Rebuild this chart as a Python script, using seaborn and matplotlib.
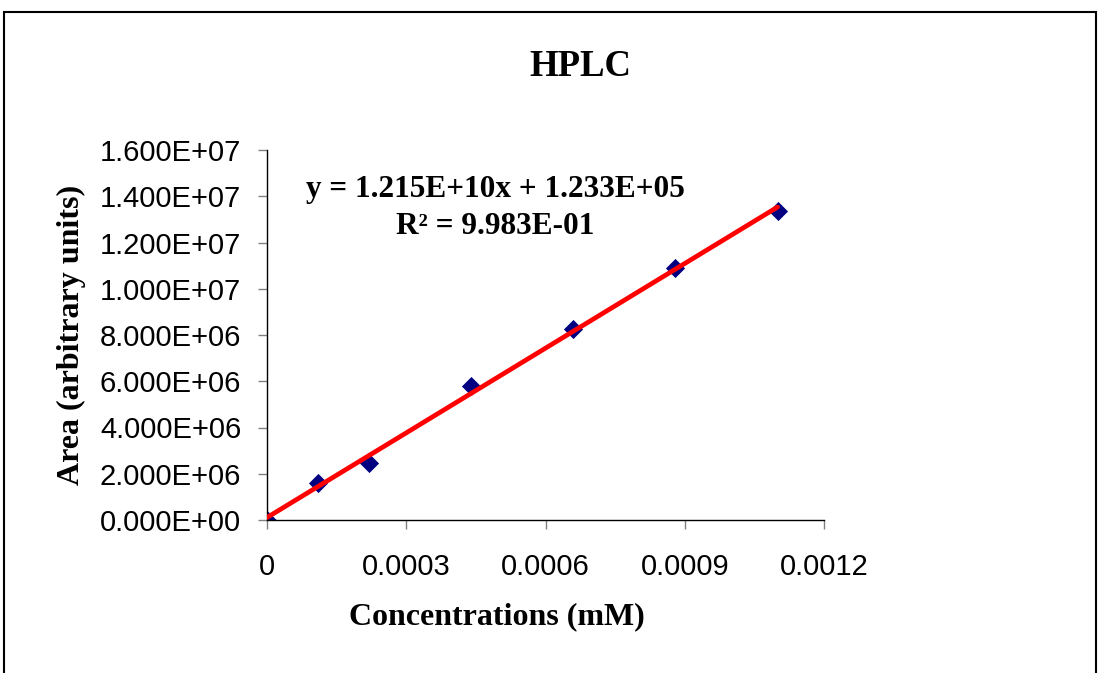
import matplotlib
matplotlib.use("Agg")
import matplotlib.pyplot as plt
import seaborn as sns
import pandas as pd
import numpy as np
from matplotlib.ticker import FuncFormatter, MultipleLocator
from matplotlib.patches import Rectangle

concentration = [0.0, 0.00011, 0.00022, 0.00044, 0.00066, 0.00088, 0.0011]
area = [0.0, 1.60e6, 2.46e6, 5.79e6, 8.26e6, 1.090e7, 1.336e7]
title = "HPLC"
xlabel = "Concentrations (mM)"
ylabel = "Area (arbitrary units)"
equation = "y = 1.215E+10x + 1.233E+05"
r2_text = "R² = 9.983E-01"

df = pd.DataFrame({"x": concentration, "y": area})

sns.set_style("white")
plt.rcParams['font.family'] = ['Liberation Sans', 'DejaVu Sans']
plt.rcParams['text.color'] = 'black'
plt.rcParams['axes.labelcolor'] = 'black'

fig = plt.figure(figsize=(11, 6.73), dpi=100)
ax = fig.add_axes([267/1100, 1-520/673, (824-267)/1100, (520-150)/673])

sns.scatterplot(data=df, x="x", y="y", ax=ax, marker="D", s=95, color="#000080",
                edgecolor="#000080", linewidth=0, zorder=2)
sns.regplot(data=df, x="x", y="y", ax=ax, ci=None, scatter=False,
            line_kws=dict(color="#ff0000", lw=3.4, zorder=3))

ax.set_xlim(0, 0.0012)
ax.set_ylim(0, 1.6e7)
ax.xaxis.set_major_locator(MultipleLocator(0.0003))
ax.yaxis.set_major_locator(MultipleLocator(2e6))
ax.xaxis.set_major_formatter(FuncFormatter(lambda v, p: "0" if abs(v) < 1e-12 else f"{v:.4f}"))
ax.yaxis.set_major_formatter(FuncFormatter(lambda v, p: f"{v:.3E}"))
for s in ["top", "right"]:
    ax.spines[s].set_visible(False)
for s in ["left", "bottom"]:
    ax.spines[s].set_color("black")
    ax.spines[s].set_linewidth(1.0)
ax.tick_params(axis="both", direction="out", length=6.5, width=1, color="#808080",
               labelsize=21, labelcolor="black", bottom=True, left=True)
ax.tick_params(axis="x", pad=17)
ax.tick_params(axis="y", pad=12)

serif = ['Liberation Serif', 'DejaVu Serif']
ax.set_xlabel(xlabel, family=serif, fontweight="bold", fontsize=23)
ax.xaxis.set_label_coords(0.413, -0.222)
ax.set_ylabel(ylabel, family=serif, fontweight="bold", fontsize=23, labelpad=10)
fig.text(580/1100, 1-67/673, title, family=serif, fontweight="bold", fontsize=26.5,
         ha="center", va="center")
ax.text(0.41, 0.892, equation, transform=ax.transAxes, family=serif, fontweight="bold",
        fontsize=22.5, ha="center", va="center")
ax.text(0.41, 0.792, r2_text, transform=ax.transAxes, family=serif, fontweight="bold",
        fontsize=22.5, ha="center", va="center")

fig.patches.append(Rectangle((4/1100, -0.1), (1096-4)/1100, 1.1 - 12/673,
                             transform=fig.transFigure, fill=False, edgecolor="black",
                             linewidth=1.5, zorder=0))

fig.savefig("out.png", dpi=100)
